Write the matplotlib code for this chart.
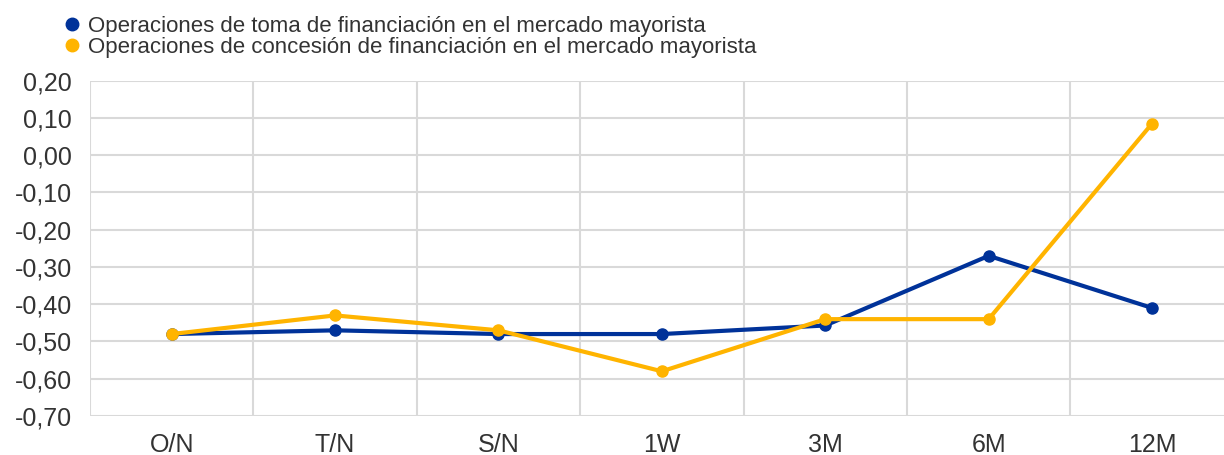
import matplotlib.pyplot as plt
from matplotlib.lines import Line2D
from matplotlib.ticker import FuncFormatter

plt.rcParams['font.family'] = ['Liberation Sans', 'DejaVu Sans']

categories = ['O/N', 'T/N', 'S/N', '1W', '3M', '6M', '12M']
toma = [-0.48, -0.47, -0.48, -0.48, -0.457, -0.27, -0.41]
concesion = [-0.48, -0.43, -0.47, -0.58, -0.44, -0.44, 0.085]
series_labels = ['Operaciones de toma de financiación en el mercado mayorista',
                 'Operaciones de concesión de financiación en el mercado mayorista']

blue = '#003299'
yellow = '#ffb400'
grid_c = '#d9d9d9'

fig = plt.figure(figsize=(12.24, 4.55), dpi=100)
ax = fig.add_axes([0.0735, 0.0857, 0.9265, 0.7369])

x = list(range(len(categories)))
ax.plot(x, toma, color=blue, lw=3, marker='o', ms=8, zorder=3)
ax.plot(x, concesion, color=yellow, lw=3, marker='o', ms=8, zorder=4)

ax.set_xlim(-0.5, 6.44)
ax.set_ylim(-0.70, 0.20)
ax.set_yticks([i / 10 for i in range(-7, 3)])
ax.yaxis.set_major_formatter(FuncFormatter(lambda v, p: f'{v:.2f}'.replace('.', ',').replace('-0,00', '0,00')))
ax.set_xticks(x)
ax.set_xticklabels(categories)

# vertical grid lines sit between categories
for b in range(len(categories)):
    ax.axvline(b - 0.5, color=grid_c, lw=1.5, zorder=1)
ax.yaxis.grid(True, color=grid_c, lw=1.5, zorder=1)
ax.set_axisbelow(True)
for s in ax.spines.values():
    s.set_visible(False)
ax.tick_params(length=0, labelsize=18, colors='#333333')
ax.tick_params(axis='x', pad=12)
ax.tick_params(axis='y', pad=13)

handles = [Line2D([], [], color=blue, marker='o', ls='none', ms=9),
           Line2D([], [], color=yellow, marker='o', ls='none', ms=9)]
fig.legend(handles, series_labels, loc='upper left', bbox_to_anchor=(0.041, 1.0),
           frameon=False, fontsize=16, handlelength=0.6, handletextpad=0.4,
           labelspacing=0.0, borderaxespad=0.3, labelcolor='#333333')

plt.savefig('out.png', dpi=100)
